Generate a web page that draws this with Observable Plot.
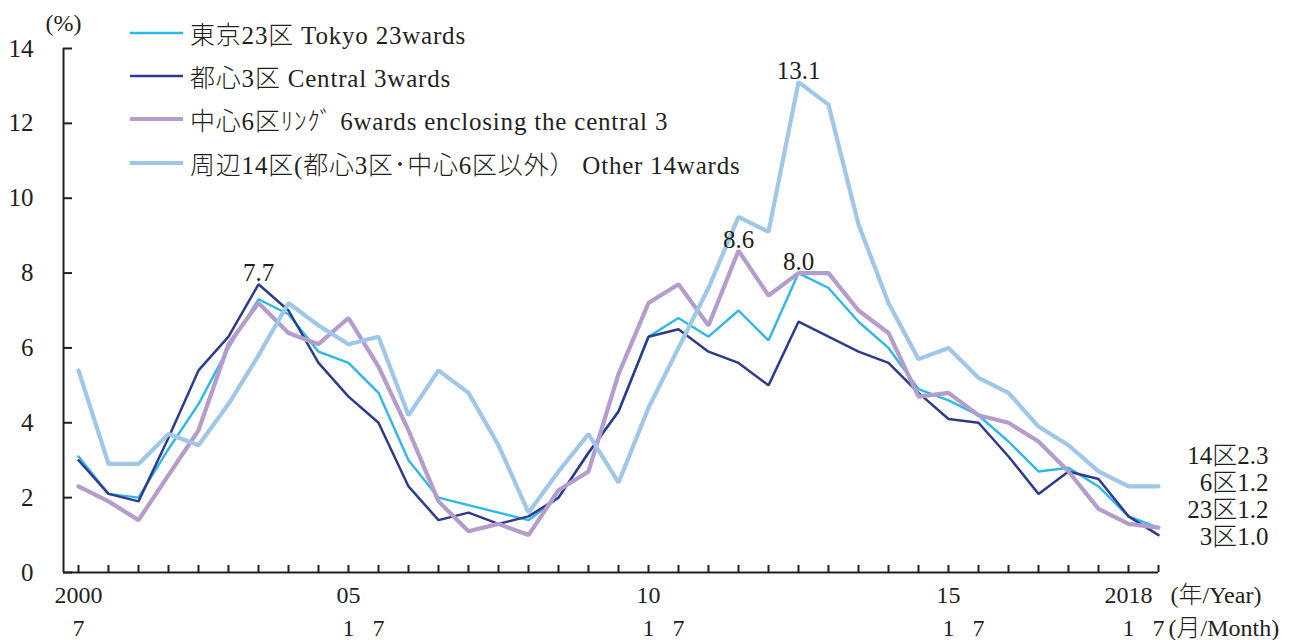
<!DOCTYPE html>
<html><head><meta charset="utf-8">
<script src="https://cdn.jsdelivr.net/npm/d3@7"></script>
<script src="https://cdn.jsdelivr.net/npm/@observablehq/plot@0.6"></script>
<style>
body{margin:0;background:#fff;}
#wrap{position:relative;width:1308px;height:640px;font-family:"Liberation Serif","Noto Sans CJK JP",serif;color:#231f20;font-weight:300;}
#legend{position:absolute;left:130px;top:0;}
.row{position:absolute;left:0;height:30px;display:flex;align-items:center;white-space:nowrap;font-size:25px;letter-spacing:0.8px;}
.row svg{margin-right:7px;}
</style></head><body><div id="wrap"></div>
<script>
const periods = ["2000-07","2001-01","2001-07","2002-01","2002-07","2003-01","2003-07","2004-01","2004-07",
  "2005-01","2005-07","2006-01","2006-07","2007-01","2007-07","2008-01","2008-07","2009-01","2009-07",
  "2010-01","2010-07","2011-01","2011-07","2012-01","2012-07","2013-01","2013-07","2014-01","2014-07",
  "2015-01","2015-07","2016-01","2016-07","2017-01","2017-07","2018-01","2018-07"];
const tokyo23  = [3.1,2.1,2.0,3.3,4.5,6.0,7.3,6.9,5.9,5.6,4.8,3.0,2.0,1.8,1.6,1.4,2.0,3.2,4.3,6.3,6.8,6.3,7.0,6.2,8.0,7.6,6.7,6.0,4.9,4.6,4.2,3.5,2.7,2.8,2.3,1.5,1.2];
const central3 = [3.0,2.1,1.9,3.6,5.4,6.3,7.7,7.0,5.6,4.7,4.0,2.3,1.4,1.6,1.3,1.5,2.0,3.2,4.3,6.3,6.5,5.9,5.6,5.0,6.7,6.3,5.9,5.6,4.8,4.1,4.0,3.1,2.1,2.7,2.5,1.5,1.0];
const ring6    = [2.3,1.9,1.4,2.6,3.8,6.1,7.2,6.4,6.1,6.8,5.5,3.8,1.9,1.1,1.3,1.0,2.2,2.7,5.3,7.2,7.7,6.6,8.6,7.4,8.0,8.0,7.0,6.4,4.7,4.8,4.2,4.0,3.5,2.7,1.7,1.3,1.2];
const other14  = [5.4,2.9,2.9,3.7,3.4,4.5,5.8,7.2,6.6,6.1,6.3,4.2,5.4,4.8,3.4,1.6,2.7,3.7,2.4,4.4,6.0,7.6,9.5,9.1,13.1,12.5,9.3,7.2,5.7,6.0,5.2,4.8,3.9,3.4,2.7,2.3,2.3];

const seriesKeys   = ["tokyo23","central3","ring6","other14"];
const seriesValues = [tokyo23, central3, ring6, other14];
const legendNames  = ["東京23区 Tokyo 23wards","都心3区 Central 3wards","中心6区ﾘﾝｸﾞ 6wards enclosing the central 3","周辺14区(都心3区･中心6区以外） Other 14wards"];
const shortNames   = ["23区","3区","6区","14区"];
const endLabelOrder = ["other14","ring6","tokyo23","central3"];
const colors       = ["#2cb9ea","#2e3a8f","#b49ccd","#9fc7e9"];
const lineWidths   = [2.4,2.5,4.2,4.2];

const yTicks = [0,2,4,6,8,10,12,14];
const yearTickLabels  = [["2000-07","2000"],["2005-01","05"],["2010-01","10"],["2015-01","15"],["2018-01","2018"]];
const monthTickLabels = [["2000-07","7"],["2005-01","1"],["2005-07","7"],["2010-01","1"],["2010-07","7"],["2015-01","1"],["2015-07","7"],["2018-01","1"],["2018-07","7"]];
const peakLabels = [["central3","2003-07"],["ring6","2011-07"],["other14","2012-07"],["tokyo23","2012-07"]];

const toX = p => { const [y, m] = p.split("-").map(Number); return y + (m - 1) / 12; };
const xs = periods.map(toX);
const step = xs[1] - xs[0];
const xMin = xs[0] - step / 2;
const ink = "#231f20";

const peaks = peakLabels.map(([k, p]) => {
  const v = seriesValues[seriesKeys.indexOf(k)][periods.indexOf(p)];
  return {x: toX(p), y: v, label: v.toFixed(1)};
});
const last = periods.length - 1;
const endIdx = endLabelOrder.map(k => seriesKeys.indexOf(k));
const endText = endIdx.map(i => shortNames[i] + seriesValues[i][last].toFixed(1)).join("\n");

// tick lengths expressed in scale units (≈9px horizontally, ≈7px vertically)
const yTickLen = step * 0.3;
const xTickLen = 0.19;

const chart = Plot.plot({
  width: 1308, height: 640,
  marginLeft: 63, marginRight: 150, marginTop: 48, marginBottom: 68,
  x: {type: "linear", domain: [xMin, xs[last]], axis: null},
  y: {domain: [0, 14]},
  style: {fontFamily: '"Liberation Serif","Noto Sans CJK JP",serif', fontSize: "25px", color: ink, background: "white", overflow: "visible"},
  marks: [
    ...seriesValues.map((vals, i) => Plot.line(vals, {x: (d, j) => xs[j], y: d => d, stroke: colors[i], strokeWidth: lineWidths[i], strokeLinejoin: "miter"})),
    Plot.ruleY(yTicks, {x1: xMin, x2: xMin + yTickLen, stroke: ink, strokeWidth: 2}),
    Plot.ruleX(xs, {y1: 0, y2: xTickLen, stroke: ink, strokeWidth: 2}),
    Plot.ruleY([0], {stroke: ink, strokeWidth: 2}),
    Plot.ruleX([xMin], {stroke: ink, strokeWidth: 2}),
    Plot.axisY(yTicks, {tickSize: 0, tickPadding: 30, fontSize: 25, label: null, fill: ink}),
    Plot.text(yearTickLabels, {x: d => toX(d[0]), text: d => d[1], frameAnchor: "bottom", lineAnchor: "middle", dy: 23, fontSize: 24, fill: ink, letterSpacing: 1}),
    Plot.text(monthTickLabels, {x: d => toX(d[0]), text: d => d[1], frameAnchor: "bottom", lineAnchor: "middle", dy: 56, fontSize: 24, fill: ink}),
    Plot.text(["(年/Year)"], {frameAnchor: "bottom-right", lineAnchor: "middle", dx: 12, dy: 23, textAnchor: "start", fontSize: 24, fill: ink}),
    Plot.text(["(月/Month)"], {frameAnchor: "bottom-right", lineAnchor: "middle", dx: 10, dy: 56, textAnchor: "start", fontSize: 24, fill: ink}),
    Plot.text(["(%)"], {frameAnchor: "top-left", lineAnchor: "middle", dy: -25, textAnchor: "middle", fontSize: 24, fill: ink}),
    Plot.text(peaks, {x: "x", y: "y", text: "label", lineAnchor: "bottom", dy: -3, fontSize: 25, fill: ink}),
    Plot.text([endText], {x: () => xs[last], y: () => seriesValues[endIdx[0]][last], dx: 110, dy: 9, textAnchor: "end", lineAnchor: "middle", lineHeight: 1.08, fontSize: 25, fill: ink, letterSpacing: 0.5})
  ]
});

const wrap = document.getElementById("wrap");
wrap.appendChild(chart);
const legend = document.createElement("div");
legend.id = "legend";
const rowCenters = [33, 76, 119, 163];
legendNames.forEach((name, i) => {
  const row = document.createElement("div");
  row.className = "row";
  row.style.top = (rowCenters[i] - 15) + "px";
  row.innerHTML = `<svg width="53" height="10"><line x1="0" y1="5" x2="53" y2="5" stroke="${colors[i]}" stroke-width="${lineWidths[i]}"/></svg><span>${name}</span>`;
  legend.appendChild(row);
});
wrap.appendChild(legend);
</script></body></html>
